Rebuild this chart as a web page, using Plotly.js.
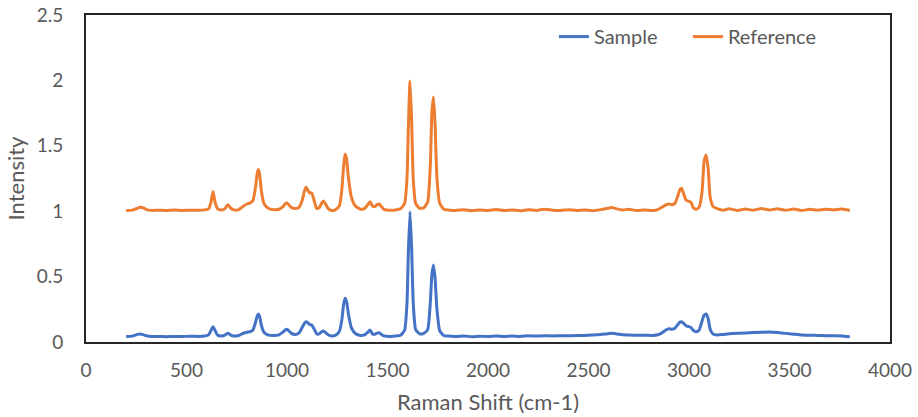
<!DOCTYPE html>
<html>
<head>
<meta charset="utf-8">
<script src="https://cdn.plot.ly/plotly-3.0.1.min.js"></script>
<style>html,body{margin:0;padding:0;background:#fff;}#chart{width:918px;height:417px;}</style>
</head>
<body>
<div id="chart"></div>
<script>
const ramanShift = [200,230,255,270,285,300,330,360,400,440,480,520,560,590,610,622,632,642,655,675,690,700,708,718,735,760,780,800,815,830,845,852,858,864,872,885,905,930,960,980,990,998,1006,1020,1040,1060,1075,1088,1095,1102,1112,1123,1135,1148,1160,1172,1181,1190,1205,1222,1240,1260,1272,1282,1289,1296,1306,1320,1340,1365,1385,1400,1413,1425,1437,1448,1459,1470,1485,1510,1540,1565,1585,1597,1604,1612,1620,1628,1640,1660,1680,1700,1713,1721,1729,1737,1746,1760,1780,1800,1840,1880,1920,1960,2000,2040,2080,2120,2160,2200,2240,2280,2320,2360,2400,2440,2480,2520,2560,2590,2615,2640,2670,2700,2740,2780,2820,2845,2865,2885,2900,2915,2930,2945,2955,2963,2972,2985,3000,3010,3020,3035,3050,3065,3075,3085,3095,3105,3120,3140,3170,3200,3240,3280,3320,3360,3400,3440,3480,3520,3560,3600,3640,3680,3720,3760,3800];

const referenceIntensity = [1.005,1.008,1.022,1.030,1.026,1.012,1.006,1.008,1.005,1.009,1.006,1.008,1.007,1.010,1.018,1.070,1.150,1.070,1.018,1.010,1.018,1.040,1.047,1.025,1.010,1.012,1.035,1.055,1.062,1.080,1.200,1.290,1.318,1.280,1.160,1.060,1.025,1.012,1.015,1.035,1.055,1.065,1.055,1.030,1.020,1.030,1.080,1.160,1.183,1.165,1.140,1.140,1.080,1.020,1.025,1.060,1.078,1.060,1.020,1.005,1.010,1.040,1.150,1.350,1.437,1.400,1.250,1.110,1.040,1.015,1.020,1.045,1.073,1.040,1.035,1.050,1.055,1.035,1.012,1.008,1.010,1.018,1.060,1.250,1.650,1.995,1.700,1.250,1.060,1.022,1.025,1.070,1.350,1.760,1.873,1.650,1.250,1.060,1.015,1.010,1.005,1.012,1.004,1.010,1.006,1.013,1.005,1.010,1.003,1.012,1.006,1.015,1.008,1.005,1.012,1.006,1.010,1.004,1.012,1.020,1.028,1.018,1.010,1.014,1.006,1.010,1.005,1.012,1.030,1.048,1.055,1.050,1.060,1.120,1.165,1.175,1.140,1.085,1.075,1.068,1.030,1.015,1.030,1.150,1.380,1.430,1.330,1.110,1.035,1.020,1.008,1.018,1.006,1.016,1.008,1.020,1.010,1.018,1.008,1.016,1.006,1.014,1.008,1.015,1.010,1.016,1.005];

const sampleIntensity = [0.042,0.045,0.058,0.062,0.056,0.048,0.042,0.043,0.041,0.043,0.042,0.044,0.043,0.046,0.055,0.090,0.117,0.088,0.052,0.046,0.052,0.063,0.066,0.055,0.046,0.050,0.065,0.075,0.078,0.090,0.160,0.200,0.214,0.195,0.130,0.075,0.055,0.050,0.055,0.075,0.090,0.097,0.090,0.068,0.058,0.070,0.110,0.145,0.155,0.150,0.135,0.130,0.100,0.062,0.062,0.078,0.084,0.075,0.055,0.046,0.050,0.080,0.160,0.290,0.334,0.310,0.210,0.110,0.065,0.050,0.055,0.072,0.092,0.062,0.060,0.068,0.071,0.058,0.046,0.043,0.045,0.052,0.090,0.300,0.700,0.996,0.720,0.300,0.095,0.062,0.066,0.095,0.300,0.520,0.589,0.480,0.250,0.085,0.050,0.045,0.042,0.045,0.041,0.044,0.042,0.045,0.043,0.046,0.043,0.047,0.045,0.048,0.046,0.048,0.047,0.050,0.050,0.053,0.057,0.062,0.066,0.062,0.056,0.054,0.051,0.052,0.050,0.055,0.070,0.092,0.102,0.098,0.105,0.135,0.152,0.155,0.145,0.125,0.117,0.112,0.090,0.078,0.090,0.160,0.205,0.214,0.180,0.100,0.060,0.054,0.058,0.063,0.066,0.068,0.072,0.074,0.076,0.072,0.066,0.060,0.054,0.052,0.050,0.048,0.047,0.046,0.041];

const seriesNames = ["Sample", "Reference"];
const xTicks = [0,500,1000,1500,2000,2500,3000,3500,4000];
const yTicks = [0,0.5,1,1.5,2,2.5];
const yTickText = ["0","0.5","1","1.5","2","2.5"];

const textColor = "#595959";
const family = "Lato, 'Open Sans', sans-serif";
const tickFont = {family: family, size: 19, color: textColor};
const titleFont = {family: family, size: 22, color: textColor};
const legendFont = {family: family, size: 20, color: textColor};

const traces = [
  {x: ramanShift, y: sampleIntensity, name: seriesNames[0], type: "scatter", mode: "lines",
   line: {color: "#4472C4", width: 3, shape: "spline", smoothing: 0.5}},
  {x: ramanShift, y: referenceIntensity, name: seriesNames[1], type: "scatter", mode: "lines",
   line: {color: "#ED7D31", width: 3, shape: "spline", smoothing: 0.5}}
];

const layout = {
  width: 918, height: 417,
  margin: {l: 86, r: 28, t: 15, b: 75},
  paper_bgcolor: "#ffffff", plot_bgcolor: "#ffffff",
  font: tickFont,
  showlegend: true,
  legend: {orientation: "h", x: 0.582, xanchor: "left", y: 0.934, yanchor: "middle",
           font: legendFont, bgcolor: "rgba(0,0,0,0)", entrywidth: 89, entrywidthmode: "pixels",
           tracegroupgap: 0},
  xaxis: {range: [0, 4000], tickvals: xTicks, ticktext: xTicks.map(String),
          showgrid: false, zeroline: false, showline: true, mirror: true,
          linecolor: "#262626", linewidth: 2, ticks: "", ticklabelstandoff: 10,
          tickfont: tickFont,
          title: {text: "Raman Shift (cm-1)", font: titleFont, standoff: 15}},
  yaxis: {range: [0, 2.5], tickvals: yTicks, ticktext: yTickText,
          showgrid: false, zeroline: false, showline: true, mirror: true,
          linecolor: "#262626", linewidth: 2, ticks: "", ticklabelstandoff: 17,
          tickfont: tickFont,
          title: {text: "Intensity", font: titleFont, standoff: 6}}
};

Plotly.newPlot("chart", traces, layout, {displayModeBar: false, staticPlot: true});
</script>
</body>
</html>
